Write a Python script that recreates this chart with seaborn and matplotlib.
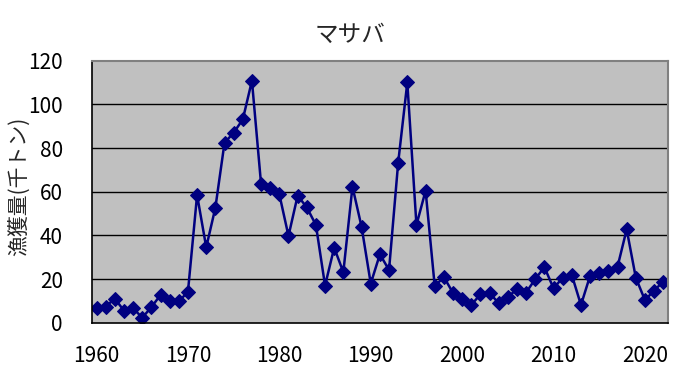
import numpy as np
import pandas as pd
import matplotlib
matplotlib.use("Agg")
import matplotlib.pyplot as plt
import seaborn as sns

years = list(range(1960, 2023))
catch = [6.7, 7.5, 11.1, 5.6, 6.7, 2.4, 7.2, 12.8, 9.8, 9.8,
         14.3, 58.5, 34.6, 52.7, 82.4, 87.0, 93.1, 110.8, 63.5, 61.9,
         58.8, 39.8, 58.2, 52.9, 44.8, 17.1, 34.4, 23.2, 62.3, 43.9,
         18.0, 31.4, 24.2, 73.3, 110.0, 44.8, 60.5, 16.8, 21.0, 13.7,
         10.8, 8.2, 13.1, 13.7, 9.0, 11.9, 15.4, 13.9, 20.1, 25.5,
         15.8, 20.7, 21.9, 8.2, 21.6, 22.7, 23.8, 25.7, 42.8, 20.7,
         10.4, 14.8, 18.9]
yticks = [0, 20, 40, 60, 80, 100, 120]
xticks = [1960, 1970, 1980, 1990, 2000, 2010, 2020]

df = pd.DataFrame({"year": years, "catch": catch})

sns.set_style("white")
plt.rcParams['font.family'] = ['Noto Sans CJK JP', 'DejaVu Sans']

fig = plt.figure(figsize=(7, 3.79), dpi=100)
ax = fig.add_axes([0.1314, 0.148, 0.8226, 0.692])
ax.set_facecolor('#C0C0C0')

sns.lineplot(data=df, x="year", y="catch", ax=ax, color='#000080',
             linewidth=1.8, marker='D', markersize=7.5,
             markeredgecolor='#000080', markerfacecolor='#000080')

ax.set_xlim(1959.5, 2022.5)
ax.set_ylim(0, 120)
ax.set_yticks(yticks)
ax.set_xticks(xticks)
ax.set_xticks(np.arange(1959.5, 2023, 1), minor=True)
for v in yticks[1:-1]:
    ax.axhline(v, color='black', linewidth=1, zorder=1)

ax.tick_params(axis='x', which='major', length=0, labelsize=15, pad=16, colors='black')
ax.tick_params(axis='x', which='minor', direction='in', length=5, width=1, color='black')
ax.tick_params(axis='y', which='major', direction='in', length=8, width=1,
               labelsize=15, pad=21, colors='black')

for s in ['top', 'right']:
    ax.spines[s].set_color('#808080')
    ax.spines[s].set_linewidth(1.5)
for s in ['left', 'bottom']:
    ax.spines[s].set_color('black')
    ax.spines[s].set_linewidth(1.2)

ax.set_xlabel('')
ax.set_ylabel('')
fig.text(19 / 700, 1 - 186 / 379, '漁獲量(千トン)', rotation=90,
         ha='center', va='center', fontsize=15)
fig.text(0.5, 1 - 35 / 379, 'マサバ', ha='center', va='center', fontsize=17)

fig.savefig('out.png', dpi=100, facecolor='white')
